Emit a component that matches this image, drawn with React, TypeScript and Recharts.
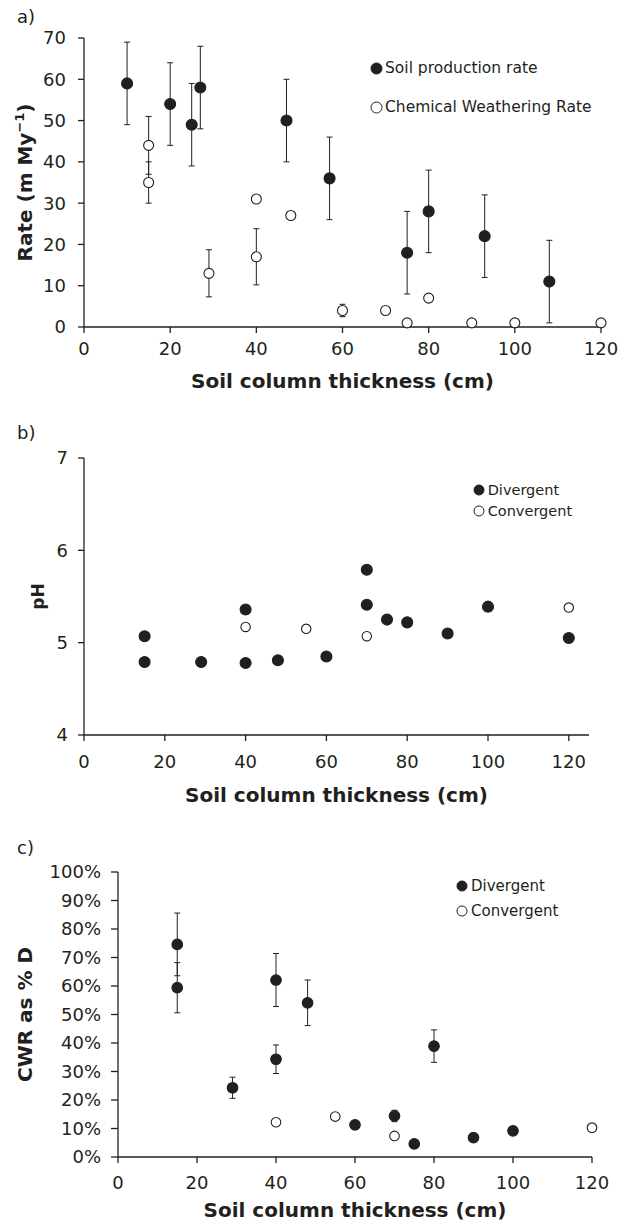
import * as React from "react";
import { ErrorBar, Label, Legend, Scatter, ScatterChart, XAxis, YAxis } from "recharts";

const INK = "#231f20";
const FONT = "'DejaVu Sans', Verdana, sans-serif";

// a) soil production vs chemical weathering
const prodDepth = [10, 20, 25, 27, 47, 57, 75, 80, 93, 108];
const prodRate = [59, 54, 49, 58, 50, 36, 18, 28, 22, 11];
const prodErr = [10, 10, 10, 10, 10, 10, 10, 10, 10, 10];

const cwrDepth = [15, 15, 29, 40, 40, 48, 60, 70, 75, 80, 90, 100, 120];
const cwrRate = [44, 35, 13, 31, 17, 27, 4, 4, 1, 7, 1, 1, 1];
const cwrErr = [7, 5, 5.7, 0, 6.8, 0, 1.5, 0, 0, 0, 0.7, 0, 0];

const rateTicks = [0, 10, 20, 30, 40, 50, 60, 70];
const depthTicks = [0, 20, 40, 60, 80, 100, 120];

// b) pH
const phDivDepth = [15, 15, 29, 40, 40, 48, 60, 70, 70, 75, 80, 90, 100, 120];
const phDiv = [5.07, 4.79, 4.79, 5.36, 4.78, 4.81, 4.85, 5.79, 5.41, 5.25, 5.22, 5.1, 5.39, 5.05];
const phConvDepth = [40, 55, 70, 120];
const phConv = [5.17, 5.15, 5.07, 5.38];
const phTicks = [4, 5, 6, 7];

// c) CWR as % of D
const pctDivDepth = [15, 15, 29, 40, 40, 48, 60, 70, 75, 80, 90, 100];
const pctDiv = [74.6, 59.4, 24.3, 62.1, 34.3, 54.1, 11.3, 14.4, 4.6, 38.9, 6.8, 9.2];
const pctDivErr = [11, 8.8, 3.7, 9.3, 5, 8, 0, 2, 0, 5.7, 0, 0];
const pctConvDepth = [40, 55, 70, 120];
const pctConv = [12.2, 14.2, 7.4, 10.3];
const pctTicks = [0, 10, 20, 30, 40, 50, 60, 70, 80, 90, 100];

const zip = (xs: number[], ys: number[], es?: number[]) =>
  xs.map((x, i) => ({ x, y: ys[i], e: es ? es[i] : 0 }));

const dot = (r: number, filled: boolean) => (p: any) =>
  <circle cx={p.cx} cy={p.cy} r={r} fill={filled ? INK : "#fff"} stroke={INK} strokeWidth={1.1} />;

const xTitle = (dy: number, size: number) => (props: any) => {
  const vb = props.viewBox;
  return (
    <text x={vb.x + vb.width / 2} y={vb.y + dy} textAnchor="middle" fontFamily={FONT}
      fontWeight="bold" fontSize={size} fill={INK}>
      Soil column thickness (cm)
    </text>
  );
};

const yTitle = (content: React.ReactNode, cx: number, size: number) => (props: any) => {
  const vb = props.viewBox;
  const cy = vb.y + vb.height / 2;
  return (
    <text x={cx} y={cy} dy={size * 0.36} transform={`rotate(-90 ${cx} ${cy})`} textAnchor="middle"
      fontFamily={FONT} fontWeight="bold" fontSize={size} fill={INK}>
      {content}
    </text>
  );
};

type Item = { label: string; filled: boolean };
const legendBox = (items: Item[], gap: number, size: number, r: number, textGap: number) => () => (
  <div style={{ position: "relative", fontFamily: FONT, fontSize: size, color: INK }}>
    {items.map((it, i) => (
      <div key={it.label} style={{ position: "absolute", left: 0, top: i * gap, height: 20, display: "flex", alignItems: "center", whiteSpace: "nowrap" }}>
        <svg width={2 * r + 2} height={2 * r + 2} style={{ display: "block" }}>
          <circle cx={r + 1} cy={r + 1} r={r} fill={it.filled ? INK : "#fff"} stroke={INK} strokeWidth={1} />
        </svg>
        <span style={{ marginLeft: textGap }}>{it.label}</span>
      </div>
    ))}
  </div>
);

const axisStyle = {
  axisLine: { stroke: INK, strokeWidth: 1.3 },
  tickLine: { stroke: INK, strokeWidth: 1.3 },
  tick: { fill: INK, fontSize: 18, fontFamily: FONT },
};

const letter = (text: string, top: number) => (
  <div style={{ position: "absolute", left: 17, top, lineHeight: "20px", fontFamily: FONT, fontSize: 18, color: INK }}>
    {text}
  </div>
);

export default function App() {
  return (
    <div style={{ position: "absolute", left: 0, top: 0, width: 622, height: 1221, background: "#fff" }}>
      {letter("a)", 7)}
      {letter("b)", 423)}
      {letter("c)", 838)}

      <div style={{ position: "absolute", left: 0, top: 0 }}>
        <ScatterChart width={622} height={400} margin={{ top: 38, right: 21, left: 24, bottom: 43 }}>
          <XAxis type="number" dataKey="x" domain={[0, 120]} ticks={depthTicks} interval={0}
            height={30} tickSize={6} tickMargin={9} {...axisStyle}>
            <Label content={xTitle(60.6, 20)} />
          </XAxis>
          <YAxis type="number" dataKey="y" domain={[0, 70]} ticks={rateTicks} interval={0}
            width={60} tickSize={6} tickMargin={12} {...axisStyle}>
            <Label content={yTitle(<>Rate (m My<tspan dy={-8} fontSize={13}>−1</tspan><tspan dy={8}>)</tspan></>, 25, 20)} />
          </YAxis>
          <Legend layout="vertical" align="center" verticalAlign="middle"
            wrapperStyle={{ left: 369.5, top: 58, width: 240, height: 60 }}
            content={legendBox([{ label: "Soil production rate", filled: true }, { label: "Chemical Weathering Rate", filled: false }], 39, 15.5, 5.5, 2.5)} />
          <Scatter data={zip(prodDepth, prodRate, prodErr)} shape={dot(5.5, true)} isAnimationActive={false}>
            <ErrorBar dataKey="e" direction="y" width={3} stroke={INK} strokeWidth={1} />
          </Scatter>
          <Scatter data={zip(cwrDepth, cwrRate, cwrErr)} shape={dot(5, false)} isAnimationActive={false}>
            <ErrorBar dataKey="e" direction="y" width={3} stroke={INK} strokeWidth={1} />
          </Scatter>
        </ScatterChart>
      </div>

      <div style={{ position: "absolute", left: 0, top: 400 }}>
        <ScatterChart width={622} height={410} margin={{ top: 58, right: 33, left: 24, bottom: 45 }}>
          <XAxis type="number" dataKey="x" domain={[0, 125]} ticks={depthTicks} interval={0}
            height={30} tickSize={6} tickMargin={14} {...axisStyle}>
            <Label content={xTitle(66.6, 20)} />
          </XAxis>
          <YAxis type="number" dataKey="y" domain={[4, 7]} ticks={phTicks} interval={0}
            width={60} tickSize={6} tickMargin={10} {...axisStyle}>
            <Label content={yTitle("pH", 38, 17)} />
          </YAxis>
          <Legend layout="vertical" align="center" verticalAlign="middle"
            wrapperStyle={{ left: 473.3, top: 80, width: 140, height: 45 }}
            content={legendBox([{ label: "Divergent", filled: true }, { label: "Convergent", filled: false }], 21, 14.5, 5, 2.4)} />
          <Scatter data={zip(phDivDepth, phDiv)} shape={dot(5.5, true)} isAnimationActive={false} />
          <Scatter data={zip(phConvDepth, phConv)} shape={dot(4.7, false)} isAnimationActive={false} />
        </ScatterChart>
      </div>

      <div style={{ position: "absolute", left: 0, top: 810 }}>
        <ScatterChart width={622} height={411} margin={{ top: 62, right: 30, left: 28, bottom: 34 }}>
          <XAxis type="number" dataKey="x" domain={[0, 120]} ticks={depthTicks} interval={0}
            height={30} tickSize={6} tickMargin={13} {...axisStyle}>
            <Label content={xTitle(59.6, 20)} />
          </XAxis>
          <YAxis type="number" dataKey="y" domain={[0, 100]} ticks={pctTicks} interval={0}
            tickFormatter={(v: number) => `${v}%`}
            width={90} tickSize={7} tickMargin={10} {...axisStyle}>
            <Label content={yTitle("CWR as % D", 25, 20)} />
          </YAxis>
          <Legend layout="vertical" align="center" verticalAlign="middle"
            wrapperStyle={{ left: 455.7, top: 65.7, width: 150, height: 50 }}
            content={legendBox([{ label: "Divergent", filled: true }, { label: "Convergent", filled: false }], 25, 15, 5, 3.3)} />
          <Scatter data={zip(pctDivDepth, pctDiv, pctDivErr)} shape={dot(5.3, true)} isAnimationActive={false}>
            <ErrorBar dataKey="e" direction="y" width={3} stroke={INK} strokeWidth={1} />
          </Scatter>
          <Scatter data={zip(pctConvDepth, pctConv)} shape={dot(4.8, false)} isAnimationActive={false} />
        </ScatterChart>
      </div>
    </div>
  );
}
